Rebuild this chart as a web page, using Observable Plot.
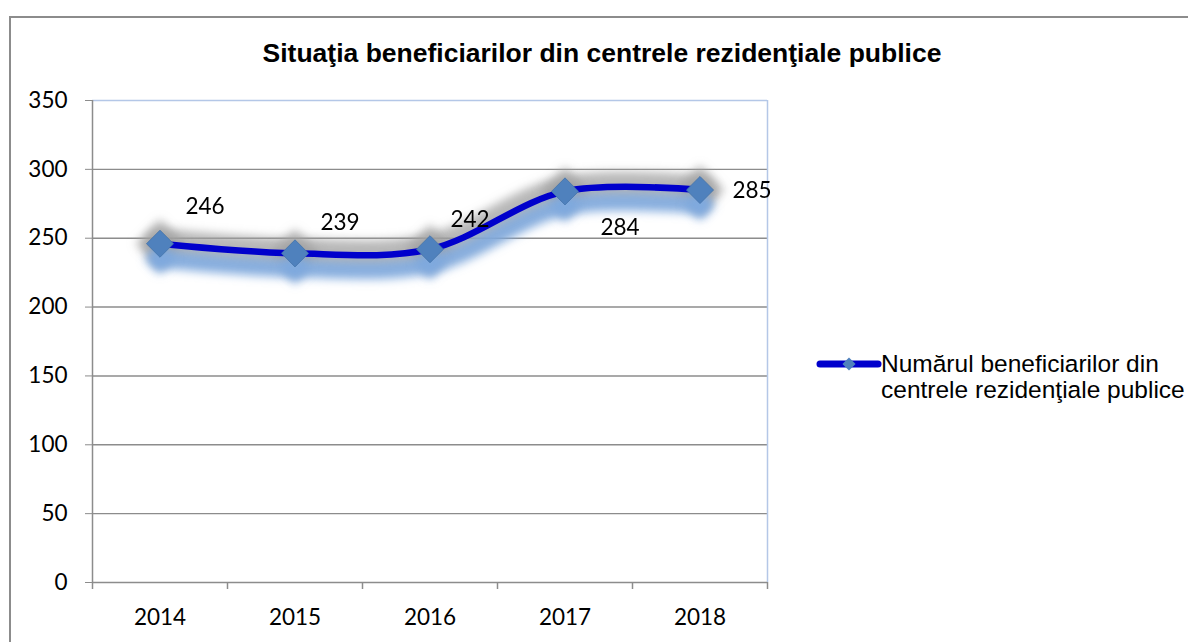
<!DOCTYPE html>
<html>
<head>
<meta charset="utf-8">
<script src="https://cdn.jsdelivr.net/npm/d3@7"></script>
<script src="https://cdn.jsdelivr.net/npm/@observablehq/plot@0.6"></script>
<style>
  html, body { margin: 0; padding: 0; background: #fff; overflow: hidden; width: 1188px; height: 642px; }
  #wrap { position: relative; width: 1188px; height: 642px; overflow: hidden; }
  #frame { position: absolute; left: 9px; top: 16px; width: 1300px; height: 800px; border: 2px solid #8c8c8c; box-sizing: border-box; }
  #title { position: absolute; left: 602px; top: 53px; transform: translate(-50%, -50%); font: bold 26.5px "Liberation Sans", Arial, sans-serif; white-space: nowrap; color: #000; }
  #chart { position: absolute; left: 0; top: 0; }
  #legend-mark { position: absolute; left: 816px; top: 349px; }
  #legend-text { position: absolute; left: 881px; top: 351px; font: 24.5px/26px "Liberation Sans", Arial, sans-serif; color: #000; white-space: nowrap; }
</style>
</head>
<body>
<div id="wrap">
  <div id="frame"></div>
  <div id="title"></div>
  <div id="chart"></div>
  <svg id="legend-mark" width="66" height="30"></svg>
  <div id="legend-text"></div>
</div>
<script>
// ---- data ----
const years = [2014, 2015, 2016, 2017, 2018];
const values = [246, 239, 242, 284, 285];
const yTicks = [0, 50, 100, 150, 200, 250, 300, 350];
const chartTitle = "Situaţia beneficiarilor din centrele rezidenţiale publice";
const seriesLine1 = "Numărul beneficiarilor din";
const seriesLine2 = "centrele rezidenţiale publice";

// ---- layout config (label offsets in px) ----
const labelOffsets = [[45, -37], [45, -31], [40, -29], [55, 36], [52, 1]];

const data = years.map((year, i) => ({year, value: values[i], i}));
const boundaries = d3.range(years.length + 1).map(i => years[0] - 0.5 + i);

const lineBlue = "#0000cc";
const markerBlue = "#4f81bd";
const gridGray = "#8c8c8c";
const borderBlue = "#b4c7e7";
const curve = "catmull-rom";

const labelMarks = data.map((d, i) => Plot.text([d], {
  x: "year", y: "value", text: d => String(d.value),
  dx: labelOffsets[i][0], dy: labelOffsets[i][1],
  fill: "#000", fontSize: 22.5, fontFamily: "Lato, sans-serif"
}));

const chart = Plot.plot({
  width: 1188, height: 642,
  marginLeft: 92, marginRight: 421, marginTop: 100, marginBottom: 60,
  style: {background: "transparent", fontFamily: "Lato, sans-serif", fontSize: "22.5px", color: "#000", overflow: "visible"},
  x: {domain: [boundaries[0], boundaries[boundaries.length - 1]]},
  y: {domain: [0, 350]},
  marks: [
    Plot.ruleY(yTicks.slice(1, -1), {stroke: gridGray, strokeWidth: 1.4}),
    Plot.ruleY([yTicks[yTicks.length - 1]], {stroke: borderBlue, strokeWidth: 1.5}),
    Plot.ruleX([boundaries[boundaries.length - 1]], {stroke: borderBlue, strokeWidth: 1.5}),
    Plot.ruleX([boundaries[0]], {stroke: gridGray, strokeWidth: 1.5}),
    Plot.ruleY([0], {stroke: gridGray, strokeWidth: 1.5}),
    Plot.ruleX(boundaries, {y1: 0, y2: -5.1, stroke: gridGray, strokeWidth: 1.5}),
    Plot.axisY({ticks: yTicks, tickSize: 7, tickPadding: 18, stroke: gridGray, label: null, fontSize: 22.5}),
    Plot.axisX({ticks: years, tickSize: 0, tickPadding: 27, tickFormat: d => String(d), label: null, fontSize: 22.5}),
    // glow (halo)
    Plot.line(data, {x: "year", y: "value", curve, stroke: "#a0a0a0", strokeWidth: 30, strokeOpacity: 0.75, strokeLinecap: "round", strokeLinejoin: "round"}),
    Plot.dot(data, {x: "year", y: "value", symbol: "diamond2", r: 22, fill: "#a0a0a0", fillOpacity: 0.75}),
    // shadow
    Plot.line(data, {x: "year", y: "value", curve, stroke: "#7ea8de", strokeWidth: 18, dy: 15, strokeOpacity: 0.9, strokeLinecap: "round"}),
    Plot.dot(data, {x: "year", y: "value", symbol: "diamond2", r: 14, fill: "#7ea8de", dy: 15, fillOpacity: 0.9}),
    // main series
    Plot.line(data, {x: "year", y: "value", curve, stroke: lineBlue, strokeWidth: 6.5}),
    Plot.dot(data, {x: "year", y: "value", symbol: "diamond2", r: 12.2, fill: markerBlue, stroke: "#4372aa", strokeWidth: 0.8}),
    ...labelMarks
  ]
});

// blur filters for glow and shadow
const svg = d3.select(chart);
const defs = svg.insert("defs", ":first-child");
defs.append("filter").attr("id", "blurH").attr("filterUnits", "userSpaceOnUse")
  .attr("x", 0).attr("y", 0).attr("width", 1188).attr("height", 642)
  .append("feGaussianBlur").attr("stdDeviation", 5);
defs.append("filter").attr("id", "blurS").attr("filterUnits", "userSpaceOnUse")
  .attr("x", 0).attr("y", 0).attr("width", 1188).attr("height", 642)
  .append("feGaussianBlur").attr("stdDeviation", 5);
const lineGroups = svg.selectAll('g[aria-label="line"]').nodes();
const dotGroups = svg.selectAll('g[aria-label="dot"]').nodes();
if (lineGroups[0]) lineGroups[0].setAttribute("filter", "url(#blurH)");
if (dotGroups[0]) dotGroups[0].setAttribute("filter", "url(#blurH)");
if (lineGroups[1]) lineGroups[1].setAttribute("filter", "url(#blurS)");
if (dotGroups[1]) dotGroups[1].setAttribute("filter", "url(#blurS)");

document.getElementById("chart").appendChild(chart);
document.getElementById("title").textContent = chartTitle;

// legend
const leg = d3.select("#legend-mark");
leg.append("line").attr("x1", 4).attr("x2", 62).attr("y1", 15).attr("y2", 15)
  .attr("stroke", lineBlue).attr("stroke-width", 7).attr("stroke-linecap", "round");
leg.append("path").attr("d", d3.symbol(d3.symbolDiamond2, 110)()).attr("transform", "translate(33,15)")
  .attr("fill", markerBlue);
const lt = document.getElementById("legend-text");
lt.innerHTML = "";
[seriesLine1, seriesLine2].forEach(s => { const d = document.createElement("div"); d.textContent = s; lt.appendChild(d); });
</script>
</body>
</html>
